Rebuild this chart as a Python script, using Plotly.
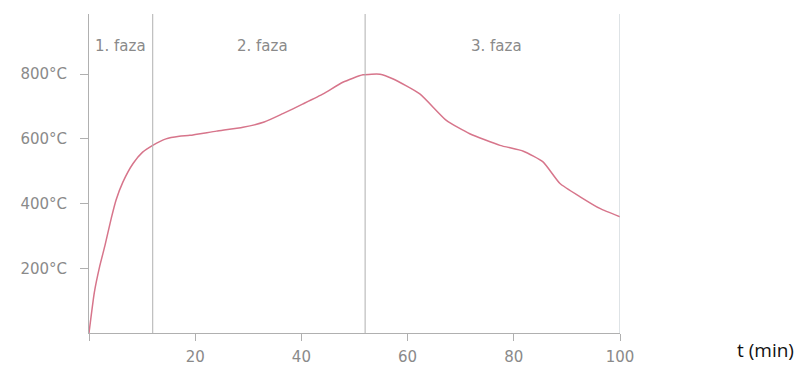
import plotly.graph_objects as go

# data
time_min = [0, 1, 2, 3, 4.2, 5.1, 6.4, 8.3, 10.1, 12, 14.5, 17, 19, 24, 29, 33, 36.5,
            40.3, 44.1, 47.8, 51.6, 54.8, 57.3, 62.3, 67.3, 71.7, 77.4, 81.8, 85.5, 88.7,
            92.5, 96.2, 100]
temp_c = [0, 125, 205, 270, 355, 411, 467, 524, 559, 580, 600, 608, 611, 624, 636, 652,
          678, 708, 739, 775, 798, 800, 785, 739, 657, 616, 580, 562, 529, 462, 421, 385, 359]

phase_bounds = [12, 52, 100]
phase_labels = ["1. faza", "2. faza", "3. faza"]
phase_label_x = [5.9, 32.7, 76.8]

x_tick_vals = [0, 20, 40, 60, 80, 100]
x_tick_text = ["", "20", "40", "60", "80", "100"]
y_tick_vals = [200, 400, 600, 800]
y_tick_text = ["200°C", "400°C", "600°C", "800°C"]

# the page body adds an 8px offset, so the figure is sized to fit the window
OFF = 8
W, H = 807 - OFF, 367 - OFF
ML, MR, MT, MB = 89 - OFF, 187, 14 - OFF, 34

fig = go.Figure()
fig.add_trace(go.Scatter(x=time_min, y=temp_c, mode="lines",
                         line=dict(color="#d7758b", width=1.5, shape="spline", smoothing=0.5),
                         hoverinfo="skip", showlegend=False))

for b in phase_bounds:
    fig.add_shape(type="line", xref="x", yref="paper", x0=b, x1=b, y0=0, y1=1,
                  line=dict(color="#bcc6cc" if b == 100 else "#b0b0b0", width=1))

for lbl, lx in zip(phase_labels, phase_label_x):
    fig.add_annotation(x=lx, y=886, xref="x", yref="y", text=lbl, showarrow=False,
                       font=dict(family="DejaVu Sans", size=15, color="#8a8a8a"))

fig.add_annotation(xref="paper", yref="paper",
                   x=(765 - OFF - ML) / (W - ML - MR),
                   y=(H - MB - (350 - OFF)) / (H - MT - MB),
                   xanchor="center", yanchor="middle", text="t (min)", showarrow=False,
                   font=dict(family="Open Sans", size=19, color="#111111"))

fig.update_layout(
    width=W, height=H,
    margin=dict(l=ML, r=MR, t=MT, b=MB, pad=0, autoexpand=False),
    paper_bgcolor="white", plot_bgcolor="white",
    font=dict(family="DejaVu Sans", size=15, color="#8a8a8a"),
)

fig.update_xaxes(range=[0, 100], showgrid=False, zeroline=False, showline=True,
                 linecolor="#b0b0b0", linewidth=1, ticks="outside", ticklen=7,
                 tickcolor="#b0b0b0", tickvals=x_tick_vals, ticktext=x_tick_text,
                 ticklabelstandoff=3, automargin=False,
                 tickfont=dict(size=15, color="#8a8a8a"))
fig.update_yaxes(range=[0, 986], showgrid=False, zeroline=False, showline=True,
                 linecolor="#b0b0b0", linewidth=1, ticks="outside", ticklen=8,
                 tickcolor="#b0b0b0", tickvals=y_tick_vals, ticktext=y_tick_text,
                 ticklabelstandoff=10, automargin=False,
                 tickfont=dict(size=15, color="#8a8a8a"))

fig.write_html("out.html")
